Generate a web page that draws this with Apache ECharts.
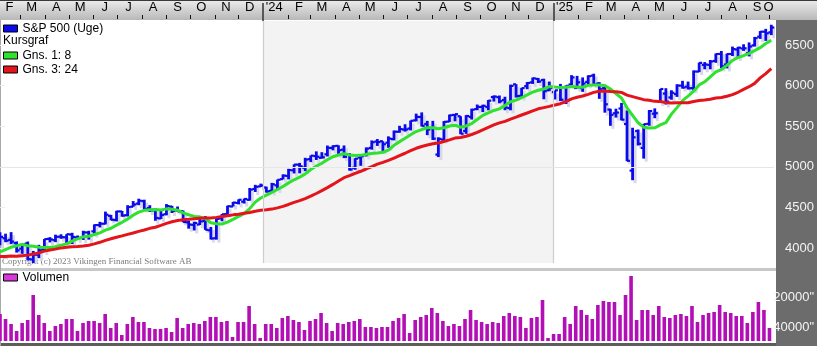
<!DOCTYPE html>
<html><head><meta charset="utf-8">
<script src="https://cdn.jsdelivr.net/npm/echarts@6/dist/echarts.min.js"></script>
<style>html,body{margin:0;padding:0;background:#fff}#c{width:817px;height:346px}</style>
</head><body><div id="c"></div>
<script>
// Weekly S&P 500 bars, first bar = week ending 2023-02-03, last = week ending 2025-10-03
const opens=[4049,4120,4100,4060,3992,4055,3859,3917,3982,4112,4097,4139,4132,4166,4130,4127,4191,4205,4282,4299,4396,4344,4450,4404,4508,4547,4578,4491,4464,4364,4416,4510,4463,4453,4316,4285,4289,4332,4218,4120,4365,4417,4511,4555,4570,4593,4726,4758,
4745,4703,4772,4848,4888,4957,5026,4989,5094,5132,5111,5154,5232,5258,5211,5151,4988,5115,5143,5233,5311,5315,5297,5341,5432,5459,5471,5572,5614,5527,5476,5151,5335,5557,5639,5623,5442,5615,5711,5737,5737,5859,5857,5823,5724,6016,5874,5993,6040,6083,6069,5943,
5920,5982,5800,6014,5970,5970,6046,6123,6026,5968,5705,5659,5718,5527,4953,5441,5232,5529,5655,5807,5902,5854,5896,6000,5987,5969,6173,6255,6255,6304,6390,6260,6389,6445,6457,6401,6496,6603,6664,6656];
const highs=[4195,4176,4195,4081,4049,4079,3964,4039,4110,4133,4164,4169,4170,4187,4154,4212,4212,4290,4322,4448,4408,4458,4456,4527,4578,4607,4595,4527,4490,4458,4541,4519,4511,4462,4338,4324,4385,4393,4259,4366,4418,4521,4568,4599,4609,4739,4778,4793,
4755,4802,4842,4907,4975,5030,5048,5111,5140,5190,5180,5262,5265,5264,5263,5168,5106,5146,5239,5325,5342,5315,5375,5447,5505,5524,5570,5655,5670,5566,5566,5363,5563,5643,5651,5623,5636,5716,5767,5765,5822,5879,5878,5863,6012,6018,5972,6044,6099,6094,6085,6050,
5940,6021,6003,6129,6120,6101,6127,6147,6043,5987,5715,5716,5787,5695,5481,5459,5528,5700,5720,5959,5968,5943,6017,6059,6050,6187,6284,6290,6316,6395,6427,6395,6481,6478,6509,6532,6600,6672,6699,6750];
const lows=[4033,4071,4047,3943,3928,3847,3809,3875,3951,4069,4072,4113,4049,4048,4098,4099,4103,4166,4253,4291,4341,4328,4385,4389,4507,4527,4474,4443,4335,4356,4403,4431,4449,4316,4238,4216,4283,4223,4104,4103,4329,4413,4511,4537,4547,4583,4690,4751,
4682,4682,4714,4845,4845,4918,4920,4946,5058,5084,5103,5127,5203,5146,5107,4953,4963,5012,5128,5211,5257,5192,5234,5326,5420,5433,5448,5560,5497,5390,5330,5120,5325,5553,5560,5402,5406,5582,5698,5674,5696,5804,5782,5697,5696,5853,5853,5956,6021,6032,5832,5932,
5829,5809,5773,6003,5963,5923,6004,6008,5837,5667,5505,5606,5572,5069,4835,5262,5101,5506,5598,5786,5767,5826,5861,5963,5952,5943,6167,6201,6201,6281,6212,6212,6364,6343,6427,6360,6482,6575,6551,6622];
const closes=[4136,4090,4079,3970,4045,3862,3917,3971,4109,4105,4138,4133,4169,4136,4124,4192,4151,4282,4299,4410,4348,4450,4399,4505,4536,4582,4478,4464,4370,4406,4516,4457,4450,4320,4288,4308,4327,4224,4117,4358,4415,4514,4559,4594,4604,4719,4754,4770,
4697,4784,4840,4891,4959,5027,5006,5089,5137,5124,5117,5234,5254,5204,5123,4967,5100,5128,5223,5303,5305,5278,5347,5432,5465,5460,5567,5615,5505,5459,5347,5344,5554,5634,5648,5408,5626,5703,5738,5751,5815,5865,5808,5729,5996,5871,5969,6032,6090,6051,5931,5971,
5942,5827,5997,6101,6041,6026,6115,6013,5955,5770,5639,5668,5581,5074,5363,5283,5525,5687,5660,5958,5803,5912,6000,5977,5968,6173,6280,6260,6297,6389,6238,6389,6450,6467,6460,6482,6584,6664,6644,6716];
// "Gns. 1: 8" (8-week average) and "Gns. 3: 24" (24-week average) as read/estimated
const avg8=[3951,3981,4010,4027,4045,4028,4021,4009,4005,4007,4015,4035,4051,4085,4111,4138,4144,4166,4186,4220,4243,4282,4316,4356,4404,4441,4464,4470,4473,4468,4482,4476,4465,4433,4409,4389,4384,4361,4311,4299,4295,4319,4353,4389,4423,4485,4565,4616,
4651,4685,4720,4757,4802,4840,4872,4912,4967,5009,5044,5087,5124,5146,5160,5145,5140,5141,5154,5163,5169,5178,5206,5265,5310,5352,5395,5434,5459,5481,5481,5470,5481,5503,5513,5487,5503,5533,5582,5633,5665,5694,5714,5754,5801,5822,5851,5886,5920,5943,5959,5989,
5982,5977,5980,5989,5983,5980,6003,6008,6009,6002,5958,5903,5846,5727,5633,5542,5488,5478,5480,5516,5544,5649,5729,5815,5871,5931,6009,6047,6108,6168,6198,6249,6310,6346,6369,6397,6432,6467,6518,6558];
const avg24=[3894,3895,3902,3898,3905,3912,3926,3939,3961,3976,3986,4001,4008,4015,4019,4024,4033,4051,4070,4094,4113,4132,4149,4168,4184,4205,4221,4242,4255,4278,4303,4323,4338,4347,4353,4360,4367,4370,4370,4377,4388,4398,4408,4416,4427,4438,4453,4464,
4471,4479,4494,4512,4536,4562,4583,4609,4638,4671,4706,4744,4783,4824,4866,4891,4920,4945,4973,5002,5032,5055,5080,5107,5139,5167,5198,5228,5250,5268,5283,5293,5311,5332,5354,5361,5377,5398,5423,5456,5486,5516,5541,5559,5587,5612,5638,5663,5689,5714,5729,5744,
5762,5777,5804,5836,5856,5872,5892,5917,5931,5934,5929,5926,5916,5883,5865,5846,5827,5819,5806,5803,5791,5785,5788,5788,5789,5804,5816,5822,5833,5848,5853,5869,5889,5918,5953,5987,6028,6095,6148,6208];
const volumes=[27,22,17,10,18,21,46,26,18,10,15,17,22,22,10,18,20,20,18,27,13,18,6,17,24,19,19,13,12,12,13,9,23,13,17,18,17,20,24,24,19,20,4,19,19,35,17,3,
17,17,13,23,25,21,19,11,20,22,28,18,10,18,17,19,20,22,14,14,13,14,14,20,23,27,8,21,24,26,33,28,20,15,17,15,22,31,21,19,17,19,18,25,28,25,24,13,23,24,41,3,
7,7,24,17,35,31,26,22,36,40,39,39,26,46,65,21,31,31,26,35,24,23,26,27,25,35,19,26,28,29,36,29,28,25,25,18,29,39,31,13];
const monthTickLabels=['F','M','A','M','J','J','A','S','O','N','D',"'24",'F','M','A','M','J','J','A','S','O','N','D',"'25",'F','M','A','M','J','J','A','S','O'];
const priceTicks=[4000,4500,5000,5500,6000,6500];
const volTickValues=[44,14];
const volTickLabels=['20000"','40000"'];
const PRICE_MIN=3815, PRICE_MAX=6796, VOL_MAX=70;

const FONT="'Liberation Sans', Arial, sans-serif";
const DAY=864e5, ORIGIN=Date.UTC(2023,1,3);
const X_MAX=139.5;
function weekPos(y,m,d){return (Date.UTC(y,m-1,d)-ORIGIN)/(7*DAY);}
const labelPos=[], labelText={}, tickPos=[], yearSeps=[];
monthTickLabels.forEach((t,k)=>{
  const mi=1+k, y=2023+Math.floor(mi/12), m=mi%12+1;
  const p=Math.min(weekPos(y,m,15),X_MAX-1);
  labelPos.push(p); labelText[p.toFixed(4)]=t;
  if(k>0){const s=weekPos(y,m,1); if(m===1) yearSeps.push(s); else tickPos.push(s);}
});
const volText={}; volTickValues.forEach((v,i)=>volText[v]=volTickLabels[i]);

const ohlcData=closes.map((c,k)=>[k,opens[k],highs[k],lows[k],c]);
const ma8Data=avg8.map((v,k)=>[k,v]);
const ma24Data=avg24.map((v,k)=>[k,v]);
const volData=volumes.map((v,k)=>[k,v]);

const BLUE='#0a0aea';
function renderOHLC(params,api){
  const xv=api.value(0);
  const pO=api.coord([xv,api.value(1)]), pH=api.coord([xv,api.value(2)]);
  const pL=api.coord([xv,api.value(3)]), pC=api.coord([xv,api.value(4)]);
  const x=pO[0];
  return {type:'group',children:[
    {type:'line',shape:{x1:x+2.5,y1:pH[1]+3,x2:x+2.5,y2:pL[1]+3},style:{stroke:'#d8d8ea',lineWidth:3}},
    {type:'line',shape:{x1:x,y1:pH[1],x2:x,y2:pL[1]},style:{stroke:BLUE,lineWidth:2.8}},
    {type:'line',shape:{x1:x-3,y1:pO[1],x2:x,y2:pO[1]},style:{stroke:BLUE,lineWidth:2.2}},
    {type:'line',shape:{x1:x,y1:pC[1],x2:x+3,y2:pC[1]},style:{stroke:BLUE,lineWidth:2.2}}
  ]};
}
const legendBase={left:3,itemWidth:14,itemHeight:7,icon:'rect',padding:0,itemGap:1,
  itemStyle:{borderColor:'#000',borderWidth:1},
  textStyle:{fontSize:12,lineHeight:13,color:'#000',fontFamily:FONT}};

const chart=echarts.init(document.getElementById('c'),null,{renderer:'canvas'});
chart.setOption({
  animation:false,
  backgroundColor:'#ffffff',
  grid:[{left:0,right:41,top:21,height:242},{left:0,right:41,top:271,height:70}],
  xAxis:[
    {type:'value',gridIndex:0,min:0,max:X_MAX,position:'top',offset:2,
     axisLine:{show:false},splitLine:{show:false},
     axisTick:{show:true,customValues:tickPos,length:4,lineStyle:{color:'#111',width:1}},
     axisLabel:{show:true,customValues:labelPos,formatter:(v,i)=>labelText[Number(v).toFixed(4)]||monthTickLabels[i]||'',
       color:'#000',fontSize:13,fontFamily:FONT,margin:5}},
    {type:'value',gridIndex:1,min:0,max:X_MAX,show:false},
    {type:'value',gridIndex:0,min:0,max:X_MAX,position:'top',
     axisLine:{show:false},splitLine:{show:false},axisLabel:{show:false},
     axisTick:{show:true,customValues:yearSeps,length:18,lineStyle:{color:'#333',width:1.5}}}
  ],
  yAxis:[
    {type:'value',gridIndex:0,position:'right',min:PRICE_MIN,max:PRICE_MAX,
     axisLine:{show:false},splitLine:{show:false},
     axisTick:{show:true,customValues:priceTicks,length:5,lineStyle:{color:'#eeeeee'}},
     axisLabel:{customValues:priceTicks,formatter:(v)=>String(v),color:'#f4f4f4',fontSize:13,fontFamily:FONT,margin:11}},
    {type:'value',gridIndex:1,position:'right',min:0,max:VOL_MAX,
     axisLine:{show:false},splitLine:{show:false},axisTick:{show:false},
     axisLabel:{customValues:volTickValues,formatter:(v)=>volText[v]||'',color:'#f4f4f4',fontSize:13,fontFamily:FONT,margin:1}}
  ],
  legend:[
    Object.assign({},legendBase,{top:22,data:['S&P 500 (Uge)']}),
    Object.assign({},legendBase,{top:49,orient:'vertical',data:['Gns. 1: 8','Gns. 3: 24']}),
    Object.assign({},legendBase,{top:271,data:[{name:'Volumen',itemStyle:{color:'#d838d8'}}]})
  ],
  graphic:[
    {type:'rect',silent:true,z:-10,shape:{x:0,y:0,width:817,height:20},
     style:{fill:new echarts.graphic.LinearGradient(0,0,0,1,[{offset:0,color:'#ececec'},{offset:1,color:'#b8b8b8'}])}},
    {type:'rect',silent:true,z:-9,shape:{x:0,y:0,width:817,height:1},style:{fill:'#3a3a3a'}},
    {type:'rect',silent:true,z:-10,shape:{x:776,y:20,width:41,height:326},style:{fill:'#6c6c6c'}},
    {type:'rect',silent:true,z:-10,shape:{x:0,y:268,width:776,height:3},style:{fill:'#c8c8c8'}},
    {type:'rect',silent:true,z:-10,shape:{x:0,y:343,width:776,height:3},style:{fill:'#5c5c5c'}},
    {type:'rect',silent:true,z:-10,shape:{x:0,y:20,width:1,height:326},style:{fill:'#a8a8a8'}},
    {type:'text',silent:true,left:3,top:35,style:{text:'Kursgraf',font:'12px '+FONT,fill:'#000'}},
    {type:'text',silent:true,z:1,left:2,top:257,style:{text:'Copyright (c) 2023 Vikingen Financial Software AB',font:"9px 'Liberation Serif', 'DejaVu Serif', serif",fill:'#7c7c7c'}}
  ],
  series:[
    {name:'S&P 500 (Uge)',type:'custom',xAxisIndex:0,yAxisIndex:0,data:ohlcData,renderItem:renderOHLC,
     encode:{x:0,y:[1,2,3,4]},itemStyle:{color:BLUE},z:2,clip:true,
     markArea:{silent:true,itemStyle:{color:'#f3f3f3'},data:[[{xAxis:yearSeps[0]},{xAxis:yearSeps[1]}]]},
     markLine:{silent:true,symbol:['none','none'],label:{show:false},lineStyle:{color:'#cdcdcd',width:1.2,type:'solid'},
       data:[{xAxis:yearSeps[0]},{xAxis:yearSeps[1]},{yAxis:5000,lineStyle:{color:'#e6e6e6',width:1,type:'solid'}}]}},
    {name:'Gns. 1: 8',type:'line',xAxisIndex:0,yAxisIndex:0,data:ma8Data,showSymbol:false,symbol:'none',
     color:'#2ee22e',lineStyle:{width:3,color:'#2ee22e'},z:3},
    {name:'Gns. 3: 24',type:'line',xAxisIndex:0,yAxisIndex:0,data:ma24Data,showSymbol:false,symbol:'none',
     color:'#e3141a',lineStyle:{width:3,color:'#e3141a'},z:3},
    {name:'Volumen',type:'bar',xAxisIndex:1,yAxisIndex:1,data:volData,barWidth:3.6,
     itemStyle:{color:'#b30fb7'}}
  ]
});
</script></body></html>
